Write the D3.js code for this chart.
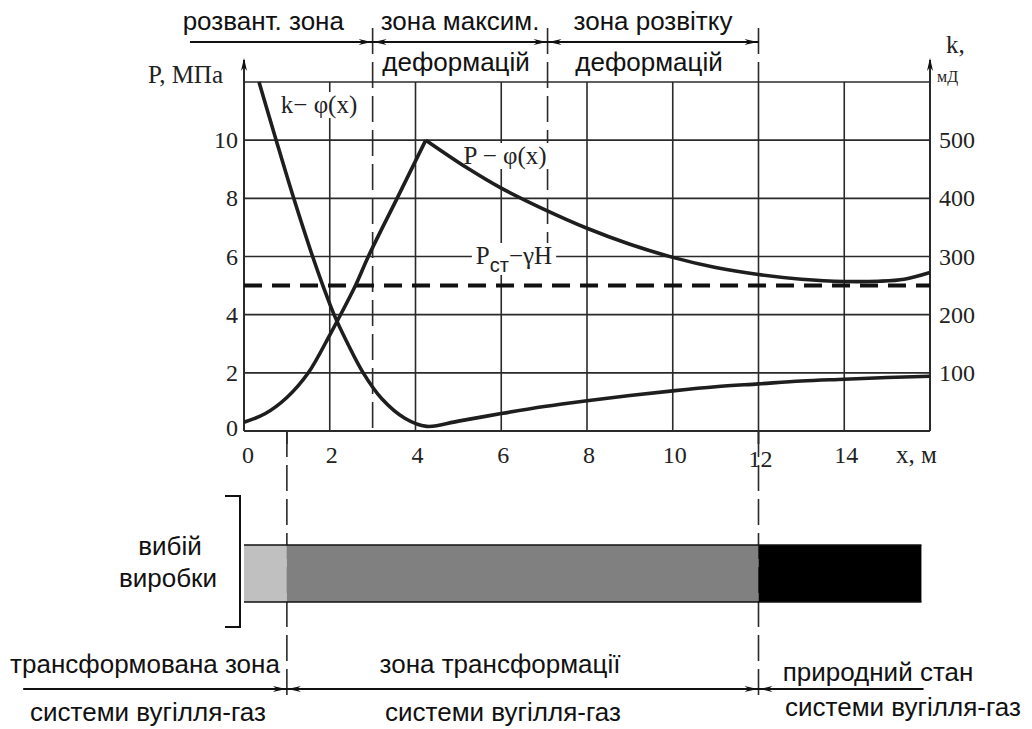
<!DOCTYPE html>
<html>
<head>
<meta charset="utf-8">
<script src="https://cdn.jsdelivr.net/npm/d3@7"></script>
<style>
  body { margin: 0; background: #fff; }
  svg { display: block; }
  .serif { font-family: "Liberation Serif", "Times New Roman", serif; fill: #222; }
  .sans { font-family: "Liberation Sans", Arial, sans-serif; fill: #111; }
</style>
</head>
<body>
<svg id="chart" width="1032" height="729"></svg>
<script>
// Axis ticks
const xTicks = [0, 2, 4, 6, 8, 10, 12, 14];
const xGrid = [2, 4, 6, 8, 10, 12, 14];
const pTicks = [0, 2, 4, 6, 8, 10];
const pGrid = [2, 4, 6, 8, 10, 12];
const kTicks = [100, 200, 300, 400, 500];

// Rock pressure P (MPa) along the distance x (m) from the working face
const pressureRiseX = [0, 0.5, 1, 1.5, 2, 2.2, 2.6, 2.9, 3.57, 4.24];
const pressureRiseP = [0.3, 0.6, 1.15, 2.0, 3.3, 3.85, 5.0, 6.0, 8.0, 10.0];
const pressureFallX = [4.24, 5.2, 6, 7, 8, 9, 10, 11, 12, 13, 14, 14.8, 15.4, 16];
const pressureFallP = [10.0, 9.05, 8.35, 7.62, 6.97, 6.42, 5.97, 5.62, 5.38, 5.22, 5.14, 5.15, 5.22, 5.45];

// Permeability k (mD)
const permX = [0.35, 0.75, 1.16, 1.6, 1.84, 2.1, 2.42, 2.78, 3.22, 3.75, 4.26, 5, 6, 7, 8, 9, 10, 11, 12, 13, 14, 15, 16];
const permK = [600, 500, 400, 300, 250, 200, 150, 100, 55, 22, 8, 17, 30, 42, 52, 61, 69, 76, 81, 86, 89, 92, 94];

// Static (overburden) pressure
const staticPressure = 5;

// Zones above the chart (x in m)
const topZoneEdges = [-1.26, 3, 7.08, 12];
const topZoneLabels = [["розвант. зона"], ["зона максим.", "деформацій"], ["зона розвітку", "деформацій"]];

// Zones of the coal-gas system below the strip (x in m)
const bottomZoneEdges = [-5.15, 1, 12, 15.85];
const bottomZoneLabels = [["трансформована зона", "системи вугілля-газ"], ["зона трансформації", "системи вугілля-газ"], ["природний стан", "системи вугілля-газ"]];

// Strip of the working face
const stripEdges = [0, 1, 12, 15.8];
const stripFills = ["#c0c0c0", "#808080", "#000000"];

const svg = d3.select("#chart");
const x = d3.scaleLinear().domain([0, 16]).range([244, 930]);
const yP = d3.scaleLinear().domain([0, 12]).range([431, 82]);
const yK = d3.scaleLinear().domain([0, 600]).range([431, 82]);
const ink = "#2a2a2a";
const sansSize = 26, tickSize = 24, labelSize = 25;

// grid
const grid = svg.append("g").attr("stroke", ink).attr("stroke-width", 1.6);
grid.selectAll("line.v").data(xGrid).join("line")
  .attr("x1", d => x(d)).attr("x2", d => x(d)).attr("y1", yP(0)).attr("y2", yP(12));
grid.selectAll("line.h").data(pGrid).join("line")
  .attr("x1", x(0)).attr("x2", x(16)).attr("y1", d => yP(d)).attr("y2", d => yP(d));

// axes frame
const axes = svg.append("g").attr("stroke", ink).attr("stroke-width", 2);
axes.append("line").attr("x1", x(0)).attr("x2", x(0)).attr("y1", yP(0)).attr("y2", 60);
axes.append("line").attr("x1", x(16)).attr("x2", x(16)).attr("y1", yP(0)).attr("y2", 60);
axes.append("line").attr("x1", x(0)).attr("x2", x(16)).attr("y1", yP(0)).attr("y2", yP(0));

function arrowHead(g, px, py, dir, vertical) {
  const L = 13, W = 3, N = 9;
  let pts;
  if (vertical) pts = [[px, py], [px - W, py - dir * L], [px, py - dir * N], [px + W, py - dir * L]];
  else pts = [[px, py], [px - dir * L, py - W], [px - dir * N, py], [px - dir * L, py + W]];
  g.append("polygon").attr("points", pts.map(p => p.join(",")).join(" ")).attr("fill", "#111").attr("stroke", "none");
}
arrowHead(svg, x(0), 58, -1, true);
arrowHead(svg, x(16), 58, -1, true);

// dashed zone boundaries
const dash = svg.append("g").attr("stroke", ink).attr("stroke-width", 1.6).attr("stroke-dasharray", "26,8");
dash.append("line").attr("x1", x(3)).attr("x2", x(3)).attr("y1", 28).attr("y2", yP(0));
dash.append("line").attr("x1", x(7.08)).attr("x2", x(7.08)).attr("y1", 28).attr("y2", 272);
dash.append("line").attr("x1", x(12)).attr("x2", x(12)).attr("y1", 28).attr("y2", yP(12));
dash.append("line").attr("x1", x(1)).attr("x2", x(1)).attr("y1", yP(0)).attr("y2", 700);
dash.append("line").attr("x1", x(12)).attr("x2", x(12)).attr("y1", yP(0)).attr("y2", 700);
// short solid ticks below the axis
svg.append("line").attr("x1", x(1)).attr("x2", x(1)).attr("y1", yP(0)).attr("y2", yP(0) + 13).attr("stroke", ink).attr("stroke-width", 1.8);
svg.append("line").attr("x1", x(12)).attr("x2", x(12)).attr("y1", yP(0)).attr("y2", yP(0) + 13).attr("stroke", ink).attr("stroke-width", 1.8);

// static pressure line
svg.append("line")
  .attr("x1", x(0)).attr("x2", x(16)).attr("y1", yP(staticPressure)).attr("y2", yP(staticPressure))
  .attr("stroke", "#111").attr("stroke-width", 4).attr("stroke-dasharray", "18,10");

// labels with white background inside the plot
function boxedLabel(parts, cx, baseY, size) {
  const g = svg.append("g");
  const t = g.append("text").attr("class", "serif").attr("x", cx).attr("y", baseY)
    .attr("text-anchor", "middle").attr("font-size", size);
  parts.forEach(p => {
    const s = t.append("tspan").text(p.t);
    if (p.sub) s.attr("font-size", size * 0.8).attr("dy", 8).attr("font-family", "Liberation Sans, Arial, sans-serif");
    if (p.up) s.attr("dy", -8);
  });
  const b = t.node().getBBox();
  g.insert("rect", "text").attr("x", b.x - 4).attr("y", b.y + 1).attr("width", b.width + 8).attr("height", b.height - 2).attr("fill", "#fff");
}
boxedLabel([{t: "k− φ(x)"}], 319, 113, labelSize);
boxedLabel([{t: "P − φ(x)"}], 505, 164, labelSize);
boxedLabel([{t: "P"}, {t: "ст", sub: true}, {t: "−γH", up: true}], 514, 264, labelSize);

// curves
const curves = svg.append("g").attr("fill", "none").attr("stroke", "#1e1e1e").attr("stroke-width", 3.6).attr("stroke-linejoin", "round");
const lineP = d3.line().x(d => x(d[0])).y(d => yP(d[1])).curve(d3.curveCatmullRom.alpha(0.5));
const lineK = d3.line().x(d => x(d[0])).y(d => yK(d[1])).curve(d3.curveCatmullRom.alpha(0.5));
curves.append("path").attr("d", lineP(d3.zip(pressureRiseX, pressureRiseP)));
curves.append("path").attr("d", lineP(d3.zip(pressureFallX, pressureFallP)));
curves.append("path").attr("d", lineK(d3.zip(permX, permK)));

// tick labels
svg.append("g").selectAll("text").data(xTicks).join("text").attr("class", "serif")
  .attr("x", d => x(d) + (d === 0 ? 4 : 2)).attr("y", d => d === 12 ? 467 : 463)
  .attr("text-anchor", "middle").attr("font-size", tickSize).text(d => d);
svg.append("g").selectAll("text").data(pTicks).join("text").attr("class", "serif")
  .attr("x", 238).attr("y", d => yP(d) + 8 - (d === 0 ? 3 : 0))
  .attr("text-anchor", "end").attr("font-size", tickSize).text(d => d);
svg.append("g").selectAll("text").data(kTicks).join("text").attr("class", "serif")
  .attr("x", 939).attr("y", d => yK(d) + 8)
  .attr("text-anchor", "start").attr("font-size", tickSize).text(d => d);
svg.append("text").attr("class", "serif").attr("x", 148).attr("y", 83).attr("font-size", labelSize).text("P, МПа");
svg.append("text").attr("class", "serif").attr("x", 896).attr("y", 463).attr("font-size", labelSize).text("x, м");
svg.append("text").attr("class", "serif").attr("x", 946).attr("y", 53).attr("font-size", labelSize).text("k,");
svg.append("text").attr("class", "serif").attr("x", 937).attr("y", 82).attr("font-size", 16).text("мД");

// top zone arrows and labels
const topY = 42;
const header = svg.append("g");
header.append("line").attr("x1", x(topZoneEdges[0])).attr("x2", x(topZoneEdges[3])).attr("y1", topY).attr("y2", topY).attr("stroke", "#111").attr("stroke-width", 1.8);
topZoneLabels.forEach((lab, i) => {
  const a = x(topZoneEdges[i]), b = x(topZoneEdges[i + 1]);
  if (i > 0) arrowHead(header, a + 1, topY, -1, false);
  arrowHead(header, b - 1, topY, 1, false);
  const cx = i === 0 ? (a + b) / 2 - 18 : (a + b) / 2;
  header.append("text").attr("class", "sans").attr("x", cx).attr("y", 30).attr("text-anchor", "middle").attr("font-size", sansSize).text(lab[0]);
  if (lab[1]) header.append("text").attr("class", "sans").attr("x", cx - 4).attr("y", 71).attr("text-anchor", "middle").attr("font-size", sansSize).text(lab[1]);
});

// strip of the working face
const stripTop = 545, stripBottom = 602;
svg.append("g").selectAll("rect").data(d3.range(stripFills.length)).join("rect")
  .attr("x", i => x(stripEdges[i])).attr("width", i => x(stripEdges[i + 1]) - x(stripEdges[i]))
  .attr("y", stripTop).attr("height", stripBottom - stripTop).attr("fill", i => stripFills[i]);
svg.append("line").attr("x1", x(0)).attr("x2", x(15.8)).attr("y1", stripTop).attr("y2", stripTop).attr("stroke", "#111").attr("stroke-width", 1.5);
svg.append("line").attr("x1", x(0)).attr("x2", x(15.8)).attr("y1", stripBottom).attr("y2", stripBottom).attr("stroke", "#111").attr("stroke-width", 1.5);
// bracket
svg.append("path").attr("d", `M225,496 H240 V627 H225`).attr("fill", "none").attr("stroke", "#111").attr("stroke-width", 2);
svg.append("text").attr("class", "sans").attr("x", 170).attr("y", 555).attr("text-anchor", "middle").attr("font-size", sansSize).text("вибій");
svg.append("text").attr("class", "sans").attr("x", 168).attr("y", 587).attr("text-anchor", "middle").attr("font-size", sansSize).text("виробки");

// bottom zone arrows and labels
const botY = 689;
const footer = svg.append("g");
footer.append("line").attr("x1", x(bottomZoneEdges[0])).attr("x2", x(bottomZoneEdges[3])).attr("y1", botY).attr("y2", botY).attr("stroke", "#111").attr("stroke-width", 1.8);
const botCenters = [145, 500, 878];
bottomZoneLabels.forEach((lab, i) => {
  const a = x(bottomZoneEdges[i]), b = x(bottomZoneEdges[i + 1]);
  if (i > 0) arrowHead(footer, a + 1, botY, -1, false);
  if (i < 2) arrowHead(footer, b - 1, botY, 1, false);
  footer.append("text").attr("class", "sans").attr("x", botCenters[i]).attr("y", i === 2 ? 681 : 673).attr("text-anchor", "middle").attr("font-size", sansSize).text(lab[0]);
  footer.append("text").attr("class", "sans").attr("x", i === 2 ? 903 : botCenters[i] + 3).attr("y", i === 2 ? 716 : 721).attr("text-anchor", "middle").attr("font-size", sansSize).text(lab[1]);
});
</script>
</body>
</html>
